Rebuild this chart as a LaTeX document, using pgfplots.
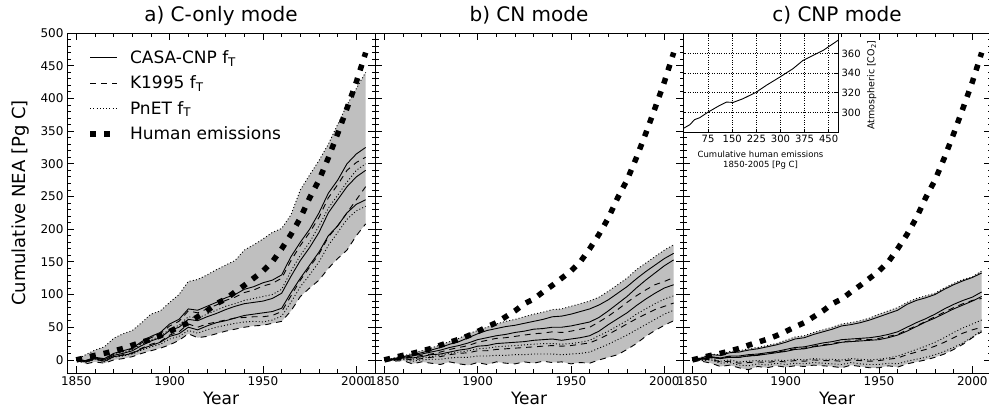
\documentclass[border=0pt]{standalone}
\usepackage{fontspec}
\setmainfont{DejaVu Sans}
\usepackage{pgfplots}
\usepackage{pgfplotstable}
\usepgfplotslibrary{fillbetween}
\pgfplotsset{compat=1.18}

% cumulative NEA [Pg C]; s = CASA-CNP, d = K1995, p = PnET
\pgfplotstableread{
yr   s1  s2  s3  d1  d2  d3  p1  p2  p3
1850 0   0   0   0   0   0   0   0   0
1855 -1  -2  -3  -1  -3  -6  8   -1  -4
1860 4   3   2   3   1   -3  15  3   1
1865 2   0   -2  1   -2  -5  20  1   -3
1870 10  7   5   9   5   0   33  8   4
1875 14  10  7   13  8   2   40  12  6
1880 18  14  10  17  11  5   45  16  9
1885 28  22  17  26  18  10  57  24  15
1890 36  29  22  34  24  14  70  31  20
1895 42  34  27  40  28  18  75  36  24
1900 55  45  36  52  38  23  88  47  32
1905 62  50  40  59  43  30  100 53  36
1910 78  62  50  75  55  40  120 66  45
1915 76  60  46  72  50  34  123 64  41
1920 82  66  52  78  55  36  130 70  46
1925 88  71  57  84  58  40  138 76  50
1930 95  77  60  91  61  44  145 82  53
1935 100 82  64  96  64  47  152 86  56
1940 108 86  68  103 65  50  168 91  58
1945 112 88  70  107 66  52  176 94  59
1950 118 90  72  113 66  53  185 97  58
1955 122 94  74  117 68  56  195 100 61
1960 130 102 79  125 74  59  201 108 67
1965 158 128 103 152 98  75  222 136 88
1970 180 152 125 175 122 97  260 160 112
1975 200 172 145 195 142 110 283 180 130
1980 225 195 165 218 162 122 305 205 150
1985 255 225 190 248 188 140 330 232 175
1990 275 245 205 268 205 155 360 252 195
1995 300 265 225 290 225 168 390 272 215
2000 315 280 238 302 245 190 415 290 228
2005 325 290 245 310 265 208 440 300 235
}\dataA

\pgfplotstableread{
yr   s1  s2  s3  d1  d2  d3  p1  p2  p3
1850 0   0   0   0   0   0   0   0   0
1855 2   1   0   1   -1  -2  3   0   -1
1860 5   4   3   3   2   -1  6   2   1
1865 8   6   3   4   0   -6  10  1   -2
1870 11  9   5   7   2   -3  14  3   0
1875 15  12  8   9   4   -5  18  5   1
1880 19  15  9   12  5   -7  23  7   1
1885 24  19  12  16  8   -3  28  10  3
1890 28  22  15  19  10  -6  33  12  4
1895 34  26  17  22  11  -8  40  14  4
1900 40  31  21  27  14  -4  45  17  6
1905 45  34  22  30  14  -7  50  18  6
1910 48  37  25  33  16  -3  55  20  7
1915 51  39  26  34  17  -5  59  21  7
1920 53  42  27  36  18  -6  62  22  8
1925 56  44  28  38  19  -3  66  23  8
1930 59  47  30  40  20  -5  70  24  9
1935 62  48  31  41  21  -2  73  25  9
1940 66  50  32  43  22  -4  77  25  9
1945 67  50  30  42  21  -3  78  24  8
1950 70  52  32  44  22  -6  82  25  9
1955 74  55  34  47  24  -4  86  27  10
1960 78  58  37  50  26  -5  90  30  12
1965 84  65  44  58  32  0   96  37  18
1970 92  75  54  67  39  4   105 44  24
1975 102 86  63  77  47  8   115 52  31
1980 112 97  72  88  55  16  125 60  38
1985 124 110 83  98  63  25  138 70  46
1990 135 122 93  107 70  36  148 78  54
1995 145 133 102 115 77  45  158 86  62
2000 155 144 110 120 82  53  168 93  70
2005 163 153 115 126 87  60  176 98  76
}\dataB

\pgfplotstableread{
yr   s1  s2  s3  d1  d2  d3  p1  p2  p3
1850 0   0   0   0   0   0   0   0   0
1855 3   2   1   1   0   -2  4   0   -1
1860 8   5   4   4   1   -5  9   2   0
1865 7   3   2   2   -3  -10 8   -2  -5
1870 11  6   4   5   -2  -8  13  0   -4
1875 12  6   4   4   -5  -12 14  -3  -8
1880 15  8   6   6   -4  -15 17  -2  -9
1885 17  9   7   8   -3  -10 19  -1  -6
1890 20  11  9   10  -4  -12 22  -2  -8
1895 23  13  11  12  -2  -9  25  0   -5
1900 27  16  13  14  -3  -11 30  -1  -7
1905 32  19  16  17  -1  -9  35  1   -5
1910 34  20  17  18  -2  -10 37  0   -6
1915 39  23  20  21  0   -8  42  2   -4
1920 43  26  22  23  -1  -9  46  1   -5
1925 47  28  24  25  -1  -10 50  1   -6
1930 52  31  27  28  -2  -12 55  0   -7
1935 54  32  28  29  0   -8  57  2   -4
1940 57  33  29  31  -1  -10 60  1   -6
1945 61  34  30  31  -2  -12 64  0   -7
1950 66  36  31  33  -1  -12 70  1   -7
1955 71  39  34  36  1   -9  75  3   -5
1960 76  43  38  39  3   -11 80  6   -6
1965 85  50  44  46  8   -6  88  11  -2
1970 91  57  51  52  12  -3  94  16  1
1975 95  63  58  59  16  0   98  21  4
1980 100 70  64  66  21  4   102 27  8
1985 108 78  71  73  27  9   110 34  13
1990 115 85  78  80  34  16  117 42  19
1995 121 91  84  86  41  24  123 49  26
2000 126 96  90  91  46  34  127 55  35
2005 133 104 97  94  50  43  136 61  45
}\dataC

% cumulative human emissions [Pg C]
\pgfplotstableread{
yr   hum
1850 0
1855 3.5
1860 7
1865 10
1870 13.5
1875 17.5
1880 22.5
1885 27
1890 31.5
1895 37
1900 43.5
1905 50.5
1910 57
1915 66
1920 75
1925 86
1930 93
1935 104
1940 114
1945 125
1950 136
1955 150
1960 170
1965 192
1970 217
1975 248
1980 275
1985 309
1990 346
1995 385
2000 425
2005 470
}\human

% inset: atmospheric CO2 against cumulative emissions
\pgfplotstableread{
cum   co2
0     284
18    287.4
33    292.6
49    294.6
75    300.3
111   307.1
132   310.5
153   310.2
184   314
225   320.7
256   327.6
298   336
339   344.6
370   353
402   358.2
433   363.3
479   373.5
}\inset

\pgfplotsset{
  panel/.style={
    scale only axis, width=308pt, height=340pt,
    xmin=1845, xmax=2010, ymin=-20, ymax=500,
    xtick={1850,1900,1950,2000}, minor x tick num=4,
    ytick={0,50,...,500}, minor y tick num=4,
    tick align=inside, xtick pos=both, ytick pos=both,
    xticklabel pos=lower, yticklabel pos=left,
    major tick length=7pt, minor tick length=3.5pt,
    every tick/.style={black, line width=0.8pt},
    axis line style={line width=0.9pt},
    /pgf/number format/1000 sep={},
    /pgf/number format/assume math mode=true,
    tick label style={font=\fontsize{12}{14}\selectfont},
    xlabel=Year,
    xlabel style={font=\fontsize{17}{20}\selectfont, at={(axis description cs:0.5,0)}, anchor=center, yshift=-25pt},
    title style={font=\fontsize{20}{23}\selectfont, at={(axis description cs:0.5,1)}, anchor=base, yshift=6pt},
  },
  sol/.style={black, line width=0.9pt},
  dsh/.style={black, line width=0.9pt, dash pattern=on 6pt off 5pt},
  dot/.style={black, line width=0.9pt, dash pattern=on 1pt off 2.2pt},
  hum/.style={black, line width=5.5pt, dash pattern=on 6pt off 8pt},
  env/.style={fill=black!25, draw=none},
}

\begin{document}
\begin{tikzpicture}

\begin{axis}[panel, at={(67pt,37pt)}, anchor=south west,
  title={a) C-only mode},
  ylabel={Cumulative NEA [Pg C]},
  ylabel style={font=\fontsize{18}{20}\selectfont, at={(axis description cs:-0.152,0.5)}, anchor=center},
  legend cell align=left,
  legend image code/.code={\draw[#1] (0pt,0pt) -- (27pt,0pt);},
  legend style={draw=none, fill=none, at={(axis description cs:0.066,0.955)}, anchor=north west,
    font=\fontsize{17}{20}\selectfont, row sep=7pt, inner sep=0pt,
    /tikz/every odd column/.append style={column sep=8pt}},
]
\addlegendimage{sol}\addlegendentry{CASA-CNP f\textsubscript{T}}
\addlegendimage{dsh}\addlegendentry{K1995 f\textsubscript{T}}
\addlegendimage{dot}\addlegendentry{PnET f\textsubscript{T}}
\addlegendimage{hum}\addlegendentry{Human emissions}
\addplot[dot, name path=top] table[x=yr, y=p1] {\dataA};
\addplot[dsh, name path=bot] table[x=yr, y=d3] {\dataA};
\addplot[env] fill between[of=top and bot];
\addplot[sol] table[x=yr, y=s1] {\dataA};
\addplot[sol] table[x=yr, y=s2] {\dataA};
\addplot[sol] table[x=yr, y=s3] {\dataA};
\addplot[dsh] table[x=yr, y=d1] {\dataA};
\addplot[dsh] table[x=yr, y=d2] {\dataA};
\addplot[dot] table[x=yr, y=p2] {\dataA};
\addplot[dot] table[x=yr, y=p3] {\dataA};
\addplot[hum] table[x=yr, y=hum] {\human};
\end{axis}

\begin{axis}[panel, at={(375pt,37pt)}, anchor=south west,
  title={b) CN mode}, yticklabels={}]
\addplot[dot, name path=top] table[x=yr, y=p1] {\dataB};
\addplot[dsh, name path=bot] table[x=yr, y=d3] {\dataB};
\addplot[env] fill between[of=top and bot];
\addplot[sol] table[x=yr, y=s1] {\dataB};
\addplot[sol] table[x=yr, y=s2] {\dataB};
\addplot[sol] table[x=yr, y=s3] {\dataB};
\addplot[dsh] table[x=yr, y=d1] {\dataB};
\addplot[dsh] table[x=yr, y=d2] {\dataB};
\addplot[dot] table[x=yr, y=p2] {\dataB};
\addplot[dot] table[x=yr, y=p3] {\dataB};
\addplot[hum] table[x=yr, y=hum] {\human};
\end{axis}

\begin{axis}[panel, at={(683pt,37pt)}, anchor=south west,
  title={c) CNP mode}, yticklabels={}]
\addplot[dot, name path=top] table[x=yr, y=p1] {\dataC};
\addplot[dsh, name path=bot] table[x=yr, y=d3] {\dataC};
\addplot[env] fill between[of=top and bot];
\addplot[sol] table[x=yr, y=s1] {\dataC};
\addplot[sol] table[x=yr, y=s2] {\dataC};
\addplot[sol] table[x=yr, y=s3] {\dataC};
\addplot[dsh] table[x=yr, y=d1] {\dataC};
\addplot[dsh] table[x=yr, y=d2] {\dataC};
\addplot[dot] table[x=yr, y=p2] {\dataC};
\addplot[dot] table[x=yr, y=p3] {\dataC};
\addplot[hum] table[x=yr, y=hum] {\human};
\end{axis}

\begin{axis}[at={(683pt,278pt)}, anchor=south west,
  scale only axis, width=155pt, height=99pt,
  axis background/.style={fill=white},
  xmin=-3, xmax=479, ymin=280, ymax=381,
  xtick={75,150,...,450}, ytick={300,320,340,360},
  grid=major, grid style={black, dotted, line width=0.7pt},
  tick align=inside, major tick length=3pt,
  every tick/.style={black, line width=0.6pt},
  axis line style={line width=0.9pt},
  yticklabel pos=right,
  /pgf/number format/assume math mode=true,
  tick label style={font=\fontsize{10}{12}\selectfont},
  xlabel={Cumulative human emissions\\1850-2005 [Pg C]},
  xlabel style={font=\fontsize{8.5}{10}\selectfont, align=center, at={(axis description cs:0.5,0)}, anchor=north, yshift=-16pt},
  ylabel={Atmospheric [CO\textsubscript{2}]},
  ylabel style={font=\fontsize{9.5}{11}\selectfont, at={(axis description cs:1.217,0.475)}, anchor=center, rotate=0},
]
\addplot[black, line width=0.9pt] table[x=cum, y=co2] {\inset};
\end{axis}

\pgfresetboundingbox
\useasboundingbox (0,0) rectangle (989pt,410pt);
\end{tikzpicture}
\end{document}
